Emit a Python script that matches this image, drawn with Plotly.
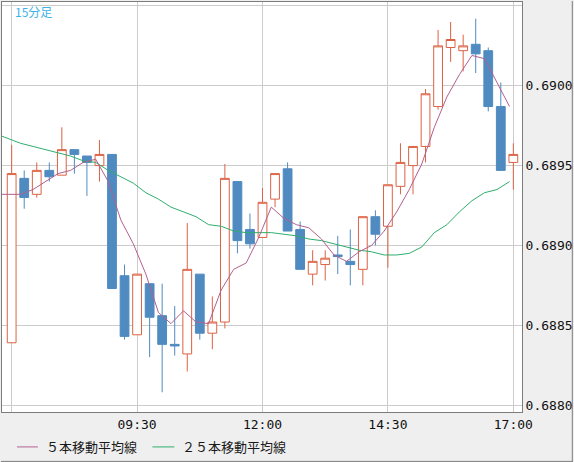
import pandas as pd
import plotly.graph_objects as go

# ---------------- data ----------------
bar_times = pd.date_range("2024-01-05 07:00", "2024-01-05 17:00", freq="15min")
ma_times = pd.date_range("2024-01-05 06:45", "2024-01-05 17:00", freq="15min")

open_ = [0.68839, 0.68942, 0.68932, 0.68947, 0.68944, 0.68960, 0.68956, 0.68950, 0.68957, 0.68881,
         0.68844, 0.68876, 0.68856, 0.68838, 0.68832, 0.68882, 0.68845, 0.68852, 0.68940, 0.68910,
         0.68905, 0.68929, 0.68948, 0.68910, 0.68882, 0.68888, 0.68894, 0.68890, 0.68885, 0.68918,
         0.68912, 0.68937, 0.68950, 0.68962, 0.68987, 0.69024, 0.69022, 0.69026, 0.69022, 0.68987,
         0.68952]
high = [0.68963, 0.68947, 0.68952, 0.68952, 0.68974, 0.68960, 0.68956, 0.68966, 0.68957, 0.68888,
        0.68882, 0.68876, 0.68876, 0.68862, 0.68914, 0.68882, 0.68868, 0.68951, 0.68940, 0.68920,
        0.68936, 0.68945, 0.68952, 0.68915, 0.68897, 0.68897, 0.68906, 0.68910, 0.68918, 0.68922,
        0.68938, 0.68964, 0.68962, 0.68998, 0.69035, 0.69040, 0.69032, 0.69042, 0.69024, 0.69002,
        0.68964]
low = [0.68839, 0.68923, 0.68930, 0.68940, 0.68944, 0.68945, 0.68931, 0.68940, 0.68873, 0.68841,
       0.68844, 0.68830, 0.68808, 0.68831, 0.68821, 0.68841, 0.68835, 0.68848, 0.68895, 0.68898,
       0.68905, 0.68924, 0.68909, 0.68885, 0.68875, 0.68878, 0.68882, 0.68875, 0.68875, 0.68900,
       0.68886, 0.68932, 0.68932, 0.68952, 0.68985, 0.69015, 0.69009, 0.69008, 0.68984, 0.68947,
       0.68935]
close = [0.68945, 0.68930, 0.68947, 0.68943, 0.68960, 0.68957, 0.68952, 0.68957, 0.68873, 0.68843,
         0.68882, 0.68855, 0.68838, 0.68837, 0.68885, 0.68845, 0.68852, 0.68942, 0.68903, 0.68901,
         0.68927, 0.68945, 0.68909, 0.68885, 0.68890, 0.68892, 0.68893, 0.68888, 0.68918, 0.68907,
         0.68938, 0.68952, 0.68962, 0.68995, 0.69025, 0.69029, 0.69025, 0.69020, 0.68987, 0.68947,
         0.68957]

ma5 = [0.68932, 0.68932, 0.68932, 0.68935, 0.68940, 0.68945, 0.68947, 0.68952, 0.68954, 0.68940,
       0.68916, 0.68901, 0.68882, 0.68858, 0.68851, 0.68859, 0.68852, 0.68851, 0.68872, 0.68885,
       0.68889, 0.68905, 0.68924, 0.68917, 0.68913, 0.68911, 0.68904, 0.68894, 0.68890, 0.68896,
       0.68900, 0.68909, 0.68921, 0.68935, 0.68951, 0.68974, 0.68993, 0.69007, 0.69019, 0.69017,
       0.69002, 0.68987]
ma25 = [0.68970, 0.68967, 0.68964, 0.68962, 0.68960, 0.68958, 0.68956, 0.68953, 0.68952, 0.68947,
        0.68943, 0.68939, 0.68933, 0.68929, 0.68924, 0.68921, 0.68918, 0.68913, 0.68912, 0.68909,
        0.68908, 0.68908, 0.68908, 0.68907, 0.68906, 0.68904, 0.68903, 0.68901, 0.68899, 0.68897,
        0.68896, 0.68894, 0.68894, 0.68895, 0.68899, 0.68908, 0.68913, 0.68921, 0.68928, 0.68933,
        0.68935, 0.68940]

x_tick_vals = ["2024-01-05 07:00", "2024-01-05 09:30", "2024-01-05 12:00",
               "2024-01-05 14:30", "2024-01-05 17:00"]
x_tick_text = ["", "09:30", "12:00", "14:30", "17:00"]
y_tick_vals = [0.6880, 0.6885, 0.6890, 0.6895, 0.6900, 0.6905]
y_tick_text = ["0.6880", "0.6885", "0.6890", "0.6895", "0.6900", ""]

title_text = "15分足"
ma5_name = "５本移動平均線"
ma25_name = "２５本移動平均線"

# ---------------- style ----------------
W, H = 574, 462
ML, MR, MT, MB = 1, 51, 1, 50
PW, PH = W - ML - MR, H - MT - MB

UP = "#dc6244"
DOWN = "#4f8bc0"
MA5_C = "#b3608e"
MA25_C = "#2eae6c"
GRID = "#cccccc"
BORDER = "#7c7c7c"
BG = "#efefef"
MONO = "DejaVu Sans Mono"
CJK = "Noto Sans CJK JP"

ma_shift = pd.Timedelta(minutes=4.5)
x_range = [pd.Timestamp("2024-01-05 06:48:26"), pd.Timestamp("2024-01-05 17:10:22")]
y_range = [0.68795625, 0.690525]


def px_x(p):
    return (p - ML) / PW


def px_y(p):
    return (MT + PH - p) / PH


fig = go.Figure()
fig.add_trace(go.Candlestick(
    x=bar_times, open=open_, high=high, low=low, close=close,
    increasing=dict(line=dict(color=UP, width=1), fillcolor="white"),
    decreasing=dict(line=dict(color=DOWN, width=1), fillcolor=DOWN),
    whiskerwidth=0, showlegend=False, hoverinfo="skip",
))
fig.add_trace(go.Scatter(x=ma_times - ma_shift, y=ma25, mode="lines", name=ma25_name,
                         line=dict(color=MA25_C, width=1), showlegend=False, hoverinfo="skip"))
fig.add_trace(go.Scatter(x=ma_times - ma_shift, y=ma5, mode="lines", name=ma5_name,
                         line=dict(color=MA5_C, width=1), showlegend=False, hoverinfo="skip"))

shapes = [
    # outer figure border (right / bottom)
    dict(type="line", xref="paper", yref="paper", x0=px_x(W - 0.5), x1=px_x(W - 0.5),
         y0=px_y(0), y1=px_y(H), line=dict(color=BORDER, width=1)),
    dict(type="line", xref="paper", yref="paper", x0=px_x(0), x1=px_x(W),
         y0=px_y(H - 0.5), y1=px_y(H - 0.5), line=dict(color=BORDER, width=1)),
    # legend samples
    dict(type="line", xref="paper", yref="paper", x0=px_x(16), x1=px_x(37),
         y0=px_y(447), y1=px_y(447), line=dict(color=MA5_C, width=1)),
    dict(type="line", xref="paper", yref="paper", x0=px_x(152), x1=px_x(174),
         y0=px_y(447), y1=px_y(447), line=dict(color=MA25_C, width=1)),
]

annotations = [
    dict(text=title_text, xref="paper", yref="paper", x=px_x(13), y=px_y(1),
         xanchor="left", yanchor="top", showarrow=False, borderpad=0,
         font=dict(family=CJK, size=12, color="#3cb2e8")),
    dict(text=ma5_name, xref="paper", yref="paper", x=px_x(44), y=px_y(447),
         xanchor="left", yanchor="middle", showarrow=False, borderpad=0,
         font=dict(family=CJK, size=13, color="#1a1a1a")),
    dict(text=ma25_name, xref="paper", yref="paper", x=px_x(181), y=px_y(447),
         xanchor="left", yanchor="middle", showarrow=False, borderpad=0,
         font=dict(family=CJK, size=13, color="#1a1a1a")),
]

fig.update_layout(
    width=W, height=H,
    margin=dict(l=ML, r=MR, t=MT, b=MB, pad=0),
    paper_bgcolor=BG, plot_bgcolor="white",
    showlegend=False,
    boxgap=0.3, boxgroupgap=0,
    shapes=shapes, annotations=annotations,
    xaxis=dict(
        type="date", range=x_range, rangeslider=dict(visible=False),
        tickmode="array", tickvals=x_tick_vals, ticktext=x_tick_text,
        showgrid=True, gridcolor=GRID, gridwidth=1, zeroline=False,
        showline=True, mirror=True, linecolor=BORDER, linewidth=1,
        ticks="", ticklen=0, tickfont=dict(family=MONO, size=13, color="#111111"),
        fixedrange=True,
    ),
    yaxis=dict(
        side="right", range=y_range,
        tickmode="array", tickvals=y_tick_vals, ticktext=y_tick_text,
        showgrid=True, gridcolor=GRID, gridwidth=1, zeroline=False,
        showline=True, mirror=True, linecolor=BORDER, linewidth=1,
        ticks="", ticklen=0, ticklabelstandoff=0,
        tickfont=dict(family=MONO, size=13, color="#111111"),
        fixedrange=True,
    ),
)

fig.write_html(
    "out.html",
    config={"displayModeBar": False},
    post_script="document.body.style.margin='0px';document.body.style.overflow='hidden';",
)
